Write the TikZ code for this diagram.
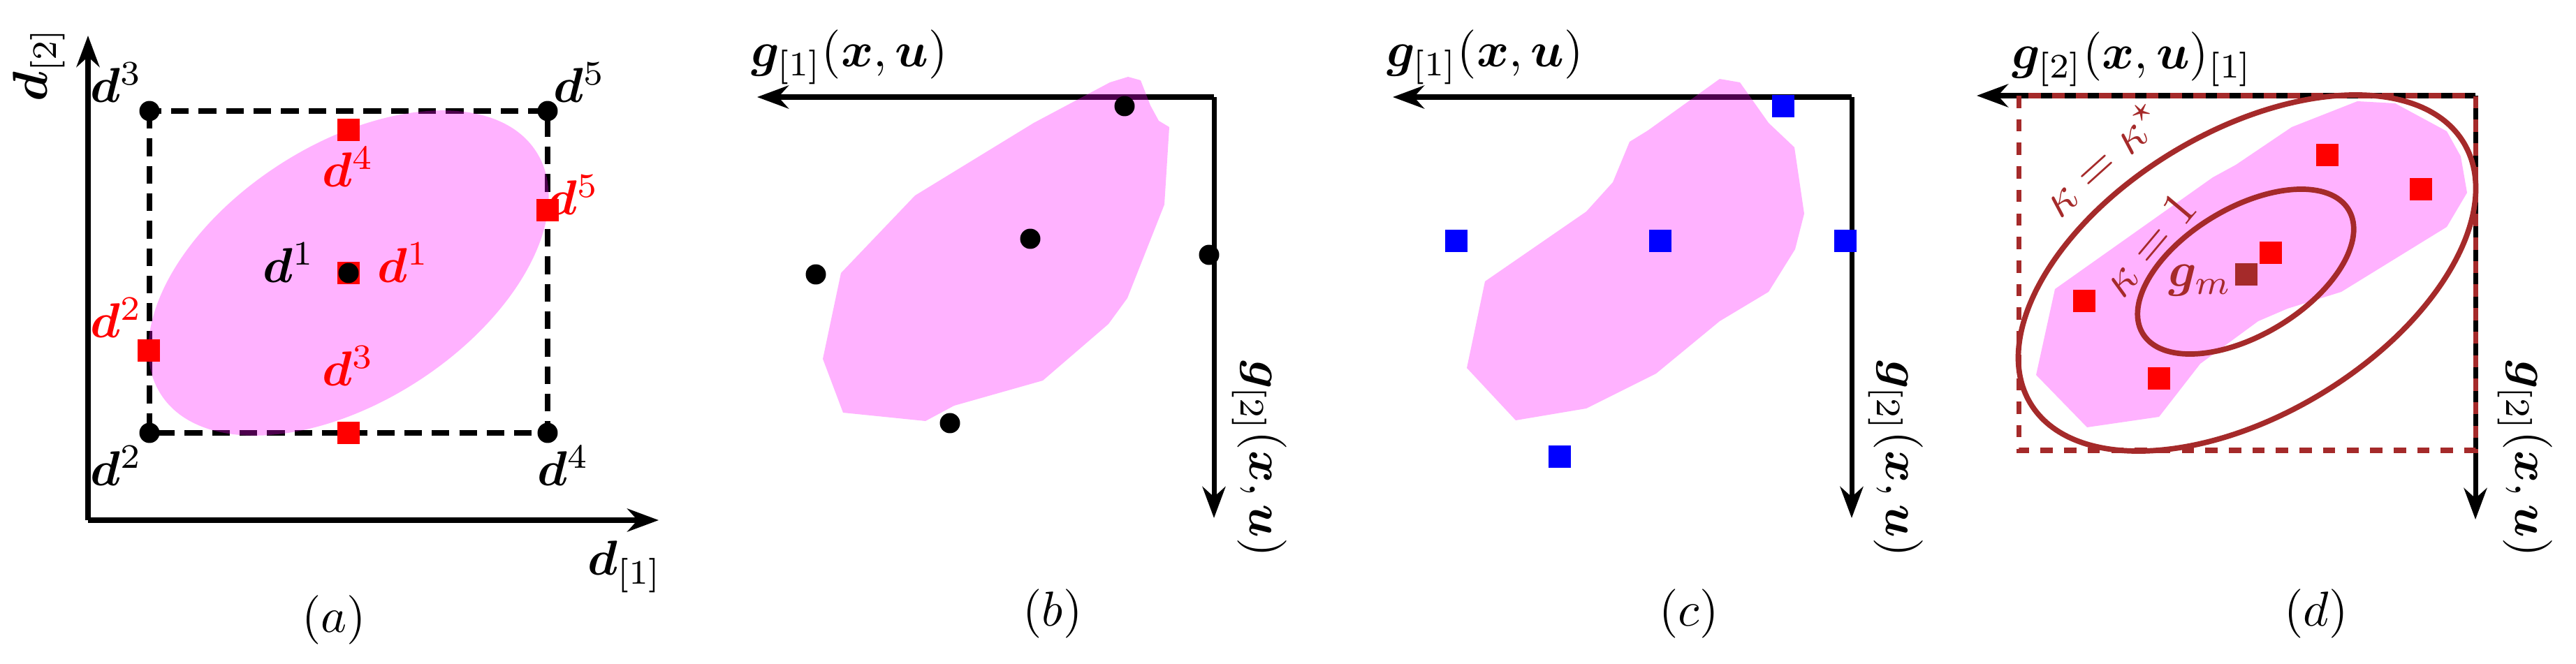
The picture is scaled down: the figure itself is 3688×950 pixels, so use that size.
\documentclass[tikz,border=0pt]{standalone}
\usepackage{amsmath,bm}
\usetikzlibrary{arrows.meta}
\definecolor{kbrown}{RGB}{165,42,42}
\definecolor{blobpink}{RGB}{255,0,255}
\tikzset{
  axis/.style={line width=1pt,-{Stealth[length=6.4pt,width=4.7pt]}},
  blob/.style={fill=blobpink,fill opacity=0.3},
  dotmark/.style={circle,fill=black,inner sep=0pt,minimum size=0.145cm},
  sqmark/.style={rectangle,inner sep=0pt,minimum size=0.16cm},
  boxdash/.style={line width=1pt,dash pattern=on 3.6pt off 2pt},
}
\begin{document}
\begin{tikzpicture}[x=0.005cm,y=-0.005cm]
\useasboundingbox (0,0) rectangle (3688,950);

% (a)
\draw[axis] (126,745)--(126,51);
\draw[axis] (126,745)--(943,745);
\node[rotate=90] (d2ax) at (56,92) {$\bm{d}_{[2]}$};
\node (d1ax) at (895,812) {$\bm{d}_{[1]}$};
\draw[boxdash] (214,159) rectangle (784,620);
\fill[blob,rotate around={33:(499,391)}] (499,391) ellipse [x radius=320,y radius=184];
\foreach \x/\y/\n in {499/186/4,499/620/3,213/502/2,784/301/5,499/391/1}{
\node[sqmark,fill=red] (rs\n) at (\x,\y) {};
}
\foreach \x/\y/\n in {214/159/3,784/159/5,214/620/2,784/620/4,499/391/1}{
\node[dotmark] (bd\n) at (\x,\y) {};
}
\node (lb3) at (167,118) {$\bm{d}^3$};
\node (lb5) at (830,118) {$\bm{d}^5$};
\node (lb2) at (167,667) {$\bm{d}^2$};
\node (lb4) at (807,667) {$\bm{d}^4$};
\node (lb1) at (414,376) {$\bm{d}^1$};
\node[red] (lr4) at (499,239) {$\bm{d}^4$};
\node[red] (lr5) at (821,279) {$\bm{d}^5$};
\node[red] (lr1) at (578,376) {$\bm{d}^1$};
\node[red] (lr2) at (167,455) {$\bm{d}^2$};
\node[red] (lr3) at (499,524) {$\bm{d}^3$};
\node (capa) at (478,888) {$(a)$};

% (b)
\coordinate (cb) at (1738,139);
\draw[axis] (cb)--(1084,139);
\draw[axis] (cb)--(1738,742);
\fill[blob] (1207,591)--(1178,514)--(1204,391)--(1310,280)--(1480,176)--(1589,118)
  --(1615,110)--(1633,115)--(1647,151)--(1659,173)--(1674,182)--(1667,293)
  --(1614,427)--(1587,464)--(1493,545)--(1366,581)--(1325,603)--cycle;
\foreach \x/\y/\n in {1610/152/1,1475/342/2,1731/365/3,1168/393/4,1360/606/5}{
\node[dotmark] (gb\n) at (\x,\y) {};
}
\node (g1b) at (1216,82) {$\bm{g}_{[1]}(\bm{x},\bm{u})$};
\node[rotate=-90] (g2b) at (1803,657) {$\bm{g}_{[2]}(\bm{x},\bm{u})$};
\node (capb) at (1507,879) {$(b)$};

% (c)
\coordinate (cc) at (2651,139);
\draw[axis] (cc)--(1994,139);
\draw[axis] (cc)--(2651,742);
\fill[blob] (2170,602)--(2100,527)--(2126,403)--(2271,303)--(2309,261)--(2333,203)
  --(2359,187)--(2462,113)--(2491,118)--(2532,176)--(2569,211)--(2583,306)
  --(2570,357)--(2532,418)--(2462,460)--(2371,535)--(2271,585)--cycle;
\foreach \x/\y/\n in {2553/152/1,2085/345/2,2377/345/3,2642/345/4,2233/654/5}{
\node[sqmark,fill=blue] (gc\n) at (\x,\y) {};
}
\node (g1c) at (2126,82) {$\bm{g}_{[1]}(\bm{x},\bm{u})$};
\node[rotate=-90] (g2c) at (2714,657) {$\bm{g}_{[2]}(\bm{x},\bm{u})$};
\node (capc) at (2418,879) {$(c)$};

% (d)
\coordinate (cd) at (3544,137);
\draw[axis] (cd)--(2830,137);
\draw[axis] (cd)--(3544,744);
\draw[boxdash,kbrown,dash pattern=on 2.5pt off 2.3pt] (2890,137) rectangle (3544,645);
\fill[blob] (2988,612)--(2915,537)--(2942,414)--(3168,254)--(3201,236)--(3281,182)
  --(3375,145)--(3429,148)--(3503,188)--(3523,224)--(3532,276)--(3503,325)
  --(3352,418)--(3275,442)--(3233,460)--(3150,521)--(3091,597)--cycle;
\draw[kbrown,line width=1.1pt,rotate around={31:(3217,391)}] (3217,391) ellipse [x radius=362,y radius=203];
\draw[kbrown,line width=1.1pt,rotate around={31:(3215,389)}] (3215,389) ellipse [x radius=172,y radius=91];
\foreach \x/\y/\n in {3332/222/1,3466/271/2,3251/362/3,2984/431/4,3091/542/5}{
\node[sqmark,fill=red] (gd\n) at (\x,\y) {};
}
\node[sqmark,fill=kbrown] (gm) at (3216,393) {};
\node[kbrown] (gml) at (3150,402) {$\bm{g}_m$};
\node[kbrown,rotate=42] (kstar) at (3010,227) {$\kappa=\kappa^\star$};
\node[kbrown,rotate=50] (kone) at (3077,350) {$\kappa=1$};
\node (g1d) at (3053,85) {$\bm{g}_{[2]}(\bm{x},\bm{u})_{[1]}$};
\node[rotate=-90] (g2d) at (3615,657) {$\bm{g}_{[2]}(\bm{x},\bm{u})$};
\node (capd) at (3316,879) {$(d)$};
\end{tikzpicture}
\end{document}
